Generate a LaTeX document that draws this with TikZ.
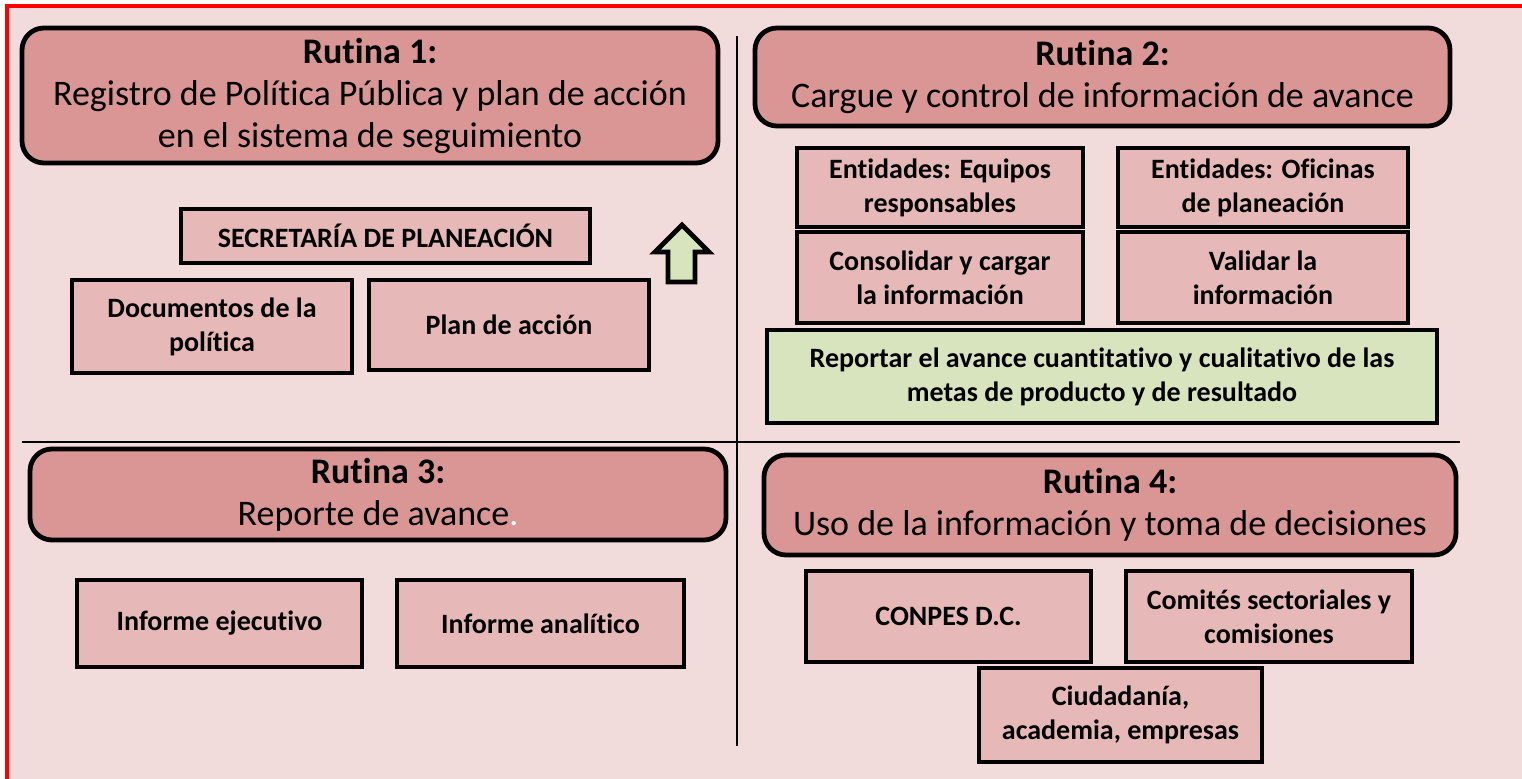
\documentclass[tikz,border=0pt]{standalone}
\usepackage{fontspec}
\setmainfont{Carlito}[Ligatures=NoCommon]
\usepackage{tikz}
\usetikzlibrary{calc}
\definecolor{sback}{HTML}{F2DCDB}
\definecolor{srose}{HTML}{D99694}
\definecolor{spink}{HTML}{E6B9B8}
\definecolor{sgreen}{HTML}{D7E4BD}
\definecolor{sred}{HTML}{FF0000}

\begin{document}
\begin{tikzpicture}[x=0.5pt,y=-0.5pt,
    RUT/.style={draw=black,line width=2.4pt,rectangle,rounded corners=11pt,fill=srose,align=center,inner sep=0pt,font=\fontsize{18}{21}\selectfont},
    BOX/.style={draw=black,line width=2pt,rectangle,fill=spink,align=center,inner sep=0pt,font=\fontsize{14}{17}\selectfont\bfseries},
    DIV/.style={draw=black,line width=1pt}]
        \useasboundingbox (0,0) rectangle (1522,779);
        % background and red frame
        \fill[sback] (7,6) rectangle (1522,779);
        \draw[sred,line width=2pt] (7,779) -- (7,6) -- (1522,6);
        % quadrant lines
        \draw[DIV] (737,36) -- (737,746);
        \draw[DIV] (22,442) -- (1460,442);
        % RUTINA 1
        \node[RUT,minimum width=348pt,minimum height=67.5pt] (rut1) at (370,95.5) {\textbf{Rutina 1:}\\Registro de Política Pública y plan de acción\\en el sistema de seguimiento};
        \node[BOX,minimum width=204.5pt,minimum height=27pt] (secre) at (385.5,236) {SECRETARÍA DE PLANEACIÓN};
        \node[BOX,minimum width=140pt,minimum height=46.5pt] (docs) at (212,326.5) {Documentos de la\\política};
        \node[BOX,minimum width=140pt,minimum height=45pt] (plan) at (509,325) {Plan de acción};
        % up arrow
        \filldraw[fill=sgreen,draw=black,line width=2.4pt] (682,225) -- (709,252) -- (695,252) -- (695,282) -- (668,282) -- (668,252) -- (655,252) -- cycle;
        % RUTINA 2
        \node[RUT,minimum width=347.5pt,minimum height=49pt] (rut2) at (1102.5,77) {\textbf{Rutina 2:}\\Cargue y control de información de avance};
        \node[BOX,minimum width=143pt,minimum height=39.5pt] (equipos) at (940,187.5) {Entidades: Equipos\\responsables};
        \node[BOX,minimum width=145pt,minimum height=39.5pt] (oficinas) at (1263,187.5) {Entidades: Oficinas\\de planeación};
        \node[BOX,minimum width=143pt,minimum height=45.5pt] (consol) at (940,277.5) {Consolidar y cargar\\la información};
        \node[BOX,minimum width=145pt,minimum height=45.5pt] (valid) at (1263,277.5) {Validar la\\información};
        \node[BOX,fill=sgreen,minimum width=335pt,minimum height=46.5pt] (report) at (1102,376.5) {Reportar el avance cuantitativo y cualitativo de las\\metas de producto y de resultado};
        % RUTINA 3
        \node[RUT,minimum width=348pt,minimum height=45.5pt] (rut3) at (378,494.5) {\textbf{Rutina 3:}\\Reporte de avance{\color{white}.}};
        \node[BOX,minimum width=142.5pt,minimum height=43.5pt] (ejec) at (219.5,623.5) {Informe ejecutivo};
        \node[BOX,minimum width=143.5pt,minimum height=43.5pt] (anal) at (540.5,623.5) {Informe analítico};
        % RUTINA 4
        \node[RUT,minimum width=346pt,minimum height=50pt] (rut4) at (1110,505) {\textbf{Rutina 4:}\\Uso de la información y toma de decisiones};
        \node[BOX,minimum width=142.5pt,minimum height=45.5pt] (conpes) at (948.5,616.5) {CONPES D.C.};
        \node[BOX,minimum width=143pt,minimum height=45.5pt] (comites) at (1269,616.5) {Comités sectoriales y\\comisiones};
        \node[BOX,minimum width=141.5pt,minimum height=47pt] (ciudad) at (1120.5,715) {Ciudadanía,\\academia, empresas};
\end{tikzpicture}
\end{document}
